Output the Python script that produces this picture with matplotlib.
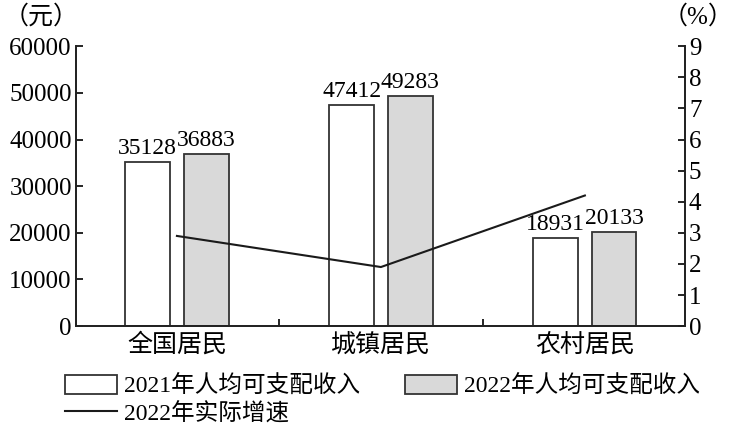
import matplotlib
matplotlib.use("Agg")
import matplotlib.pyplot as plt
import numpy as np
from matplotlib.patches import Patch
from matplotlib.lines import Line2D

plt.rcParams['font.family'] = ['Liberation Serif', 'Noto Sans CJK SC', 'DejaVu Sans']

categories = ["全国居民", "城镇居民", "农村居民"]
income_2021 = [35128, 47412, 18931]
income_2022 = [36883, 49283, 20133]
growth_2022 = [2.9, 1.9, 4.2]
left_ticks = [0, 10000, 20000, 30000, 40000, 50000, 60000]
right_ticks = list(range(0, 10))

fig = plt.figure(figsize=(7.34, 4.36), dpi=100)
ax = fig.add_axes([0.1035, 0.252, 0.8295, 0.642])
ax2 = ax.twinx()

x = np.arange(len(categories))
w = 0.22
off = 0.143
edge = '#333333'
ax.bar(x - off, income_2021, w, color='white', edgecolor=edge, linewidth=1.3, zorder=2)
ax.bar(x + off, income_2022, w, color='#d9d9d9', edgecolor=edge, linewidth=1.3, zorder=2)
for xi, v in zip(x - off, income_2021):
    ax.text(xi, v + 600, str(v), ha='center', va='bottom', fontsize=17)
for xi, v in zip(x + off, income_2022):
    ax.text(xi, v + 600, str(v), ha='center', va='bottom', fontsize=17)

ax2.plot(x, growth_2022, color='#1a1a1a', linewidth=1.5)

ax.set_xlim(-0.495, 2.49)
ax.set_ylim(0, 60000)
ax2.set_ylim(0, 9)
ax.set_yticks(left_ticks)
ax.set_yticklabels([str(t) for t in left_ticks], fontsize=18)
ax2.set_yticks(right_ticks)
ax2.set_yticklabels([str(t) for t in right_ticks], fontsize=18)

ax.set_xticks([0.5, 1.5])
ax.set_xticklabels([])
ax.set_xticks(x, minor=True)
ax.set_xticklabels(categories, minor=True, fontsize=18)
ax.tick_params(axis='x', which='major', direction='in', length=5, width=1.2)
ax.tick_params(axis='x', which='minor', length=0, pad=5)
ax.tick_params(axis='y', direction='in', length=5, width=1.2, pad=3)
ax2.tick_params(axis='y', direction='in', length=5, width=1.2, pad=3)

for a in (ax, ax2):
    a.spines['top'].set_visible(False)
    for s in ('left', 'right', 'bottom'):
        a.spines[s].set_linewidth(1.3)
        a.spines[s].set_color('#222222')

fig.text(0.005, 0.962, "（元）", fontsize=18, ha='left', va='center')
fig.text(0.999, 0.962, "（%）", fontsize=18, ha='right', va='center')

handles = [Patch(facecolor='white', edgecolor=edge, linewidth=1.3),
           Line2D([], [], color='#1a1a1a', linewidth=1.5),
           Patch(facecolor='#d9d9d9', edgecolor=edge, linewidth=1.3)]
labels = ["2021年人均可支配收入", "2022年实际增速", "2022年人均可支配收入"]
fig.legend(handles, labels, ncol=2, loc='upper left', bbox_to_anchor=(0.076, 0.162),
           frameon=False, fontsize=17, handlelength=2.2, handleheight=0.9,
           handletextpad=0.3, columnspacing=1.9, labelspacing=0.2, borderaxespad=0)

fig.savefig("out.png", dpi=100)
